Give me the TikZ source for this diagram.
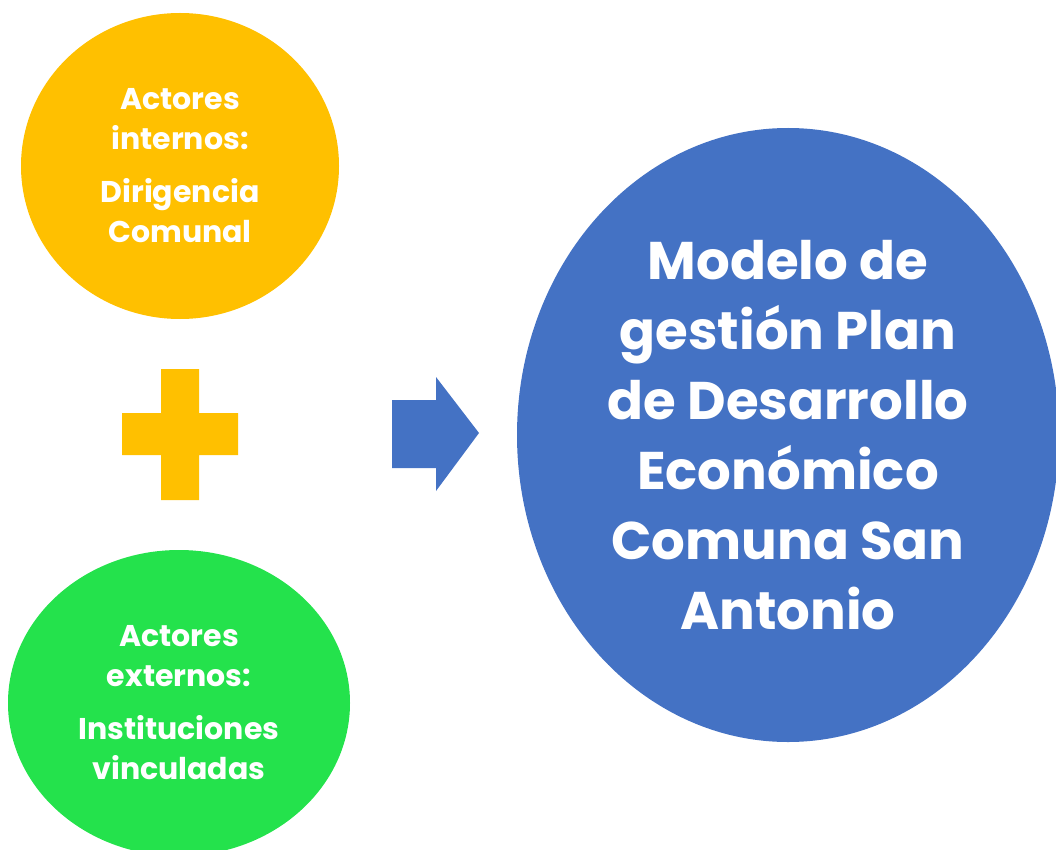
\documentclass[tikz,border=0pt]{standalone}
\usepackage{fontspec}
\setmainfont{Poppins}
\usetikzlibrary{shapes.geometric}
\definecolor{cOrange}{HTML}{FFC000}
\definecolor{cGreen}{HTML}{24E24C}
\definecolor{cBlue}{HTML}{4472C4}
\tikzset{
  blob/.style={ellipse, inner sep=0pt, text=white, align=center, font=\bfseries},
  small/.style={blob, font=\fontsize{30}{40}\selectfont\bfseries},
  big/.style={blob, font=\fontsize{53}{70}\selectfont\bfseries},
}
\begin{document}
\begin{tikzpicture}[x=1pt,y=-1pt]
\useasboundingbox (0,0) rectangle (1056,850);
\clip (0,0) rectangle (1056,850);
\node[small, fill=cOrange, minimum width=318pt, minimum height=306pt] (int) at (180,166)
  {Actores\\internos:\\[13pt]Dirigencia\\Comunal};
\node[small, fill=cGreen, minimum width=342pt, minimum height=306pt] (ext) at (179,703)
  {Actores\\externos:\\[13pt]Instituciones\\vinculadas};
\node[big, fill=cBlue, minimum width=542pt, minimum height=614pt] (mod) at (788,435)
  {Modelo de\\gestión Plan\\de Desarrollo\\Económico\\Comuna San\\Antonio};
% plus sign
\fill[cOrange] (161,369) -- (199,369) -- (199,413) -- (238,413) -- (238,455) -- (199,455)
  -- (199,500) -- (161,500) -- (161,455) -- (122,455) -- (122,413) -- (161,413) -- cycle;
% arrow
\fill[cBlue] (392,400) -- (436,400) -- (436,377) -- (479,433) -- (436,491) -- (436,468)
  -- (392,468) -- cycle;
\end{tikzpicture}
\end{document}
